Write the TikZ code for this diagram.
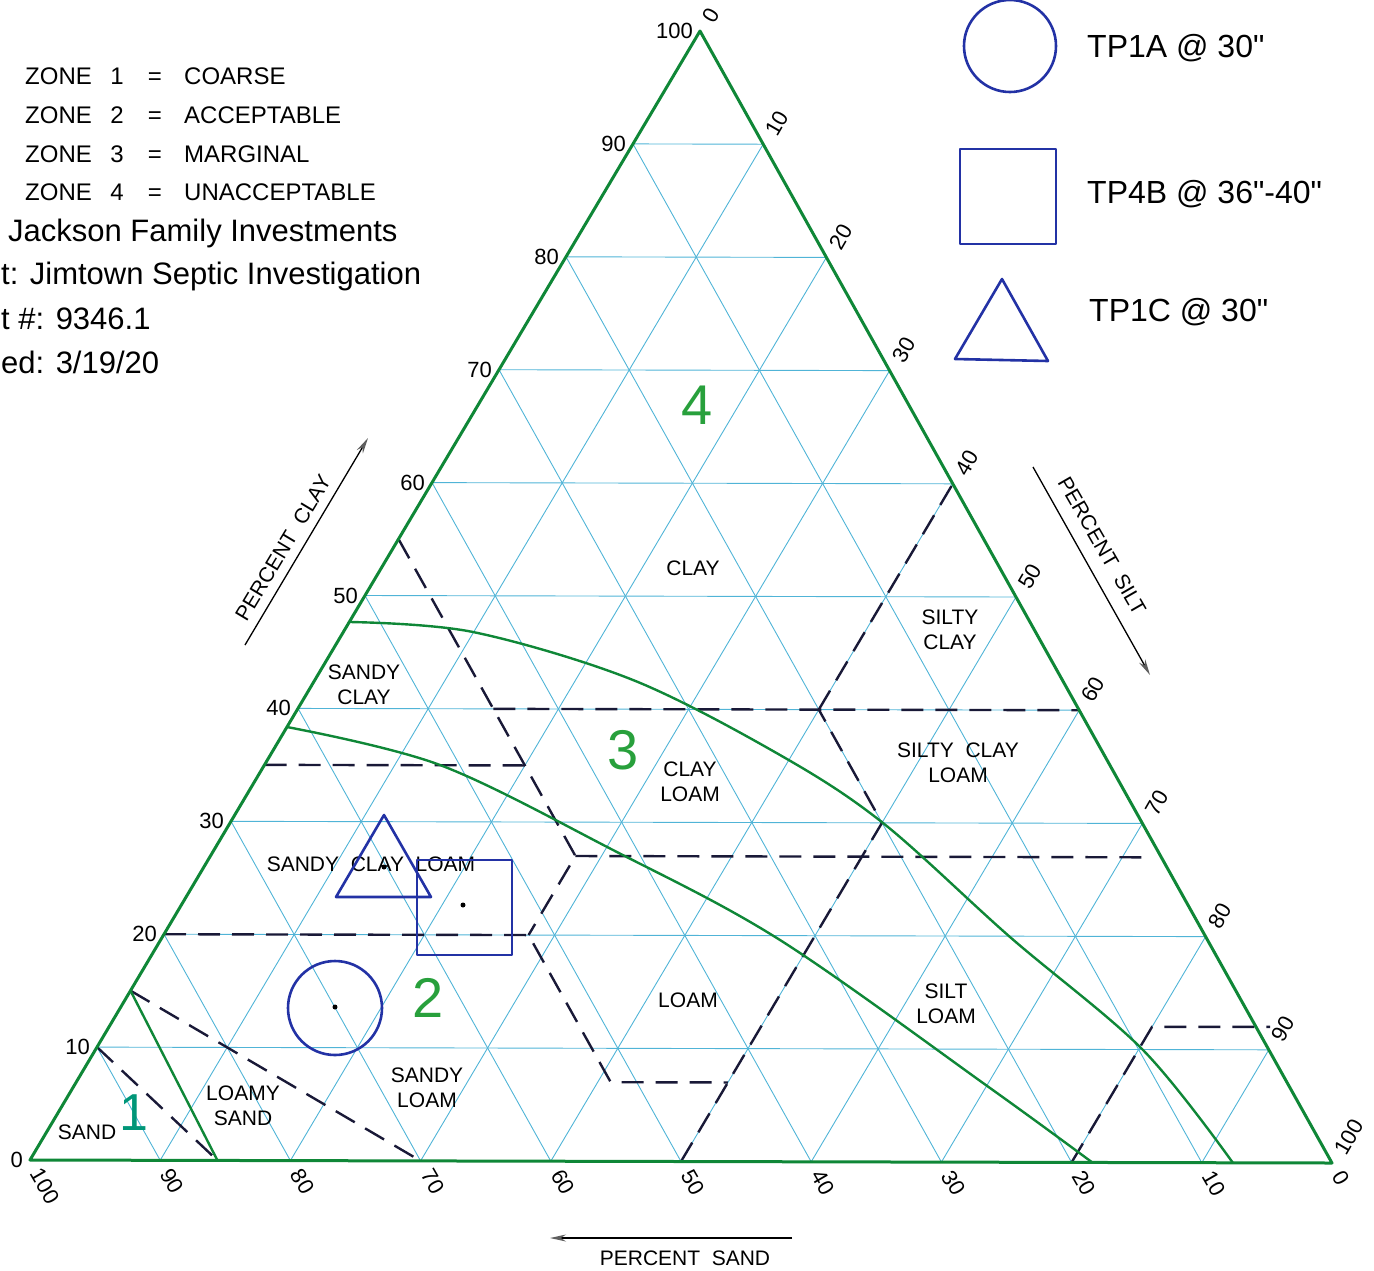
\documentclass[tikz,border=0pt]{standalone}
\usepackage{fontspec}
\setmainfont{Liberation Sans}[Ligatures=TeXOff]
\usetikzlibrary{arrows.meta}
\definecolor{tgreen}{RGB}{15,135,55}
\definecolor{zgreen}{RGB}{40,160,60}
\definecolor{zteal}{RGB}{0,150,120}
\definecolor{gridc}{RGB}{80,180,215}
\definecolor{dashc}{RGB}{25,25,55}
\definecolor{symc}{RGB}{35,50,165}
\definecolor{arrc}{RGB}{95,95,95}
\begin{document}
\begin{tikzpicture}[x=1pt,y=-1pt,
  edgeline/.style={tgreen,line width=3pt,line join=round},
  zoneline/.style={tgreen,line width=2.4pt},
  gridline/.style={gridc,line width=0.9pt},
  classline/.style={dashc,line width=2.4pt,dash pattern=on 22pt off 12pt},
  sym/.style={symc,line width=2.6pt,line join=round},
  lbl/.style={font=\fontsize{21}{25}\selectfont,align=center,inner sep=0pt},
  ticklbl/.style={font=\fontsize{22}{26}\selectfont,inner sep=0pt},
  zonenum/.style={font=\fontsize{56}{60}\selectfont,zgreen,inner sep=0pt},
  info/.style={font=\fontsize{31}{36}\selectfont,anchor=base west,inner sep=0pt},
  legtxt/.style={font=\fontsize{24}{28}\selectfont,inner sep=0pt},
  axislbl/.style={font=\fontsize{21}{25}\selectfont,inner sep=0pt},
  axisarrow/.style={line width=1.3pt,-{Stealth[length=16pt,width=7pt,color=arrc]}},
  dotmark/.style={circle,fill=black,inner sep=0pt,minimum size=5pt},
]
\useasboundingbox (0,0) rectangle (1374,1270);
\coordinate (L) at (30,1160);
\coordinate (R) at (1332,1163);
\coordinate (T) at (700,31);

% ---------- grid ----------
\foreach \i in {1,...,9}{
  \pgfmathsetmacro\a{\i/10}
  \pgfmathsetmacro\b{1-\i/10}
  \draw[gridline] (barycentric cs:L=\b,T=\a) -- (barycentric cs:R=\b,T=\a);
  \draw[gridline] (barycentric cs:L=\b,R=\a) -- (barycentric cs:R=\a,T=\b);
  \draw[gridline] (barycentric cs:L=\a,R=\b) -- (barycentric cs:L=\a,T=\b);
}

% ---------- class boundary points (sand, silt, clay fractions) ----------
\coordinate (p1) at (barycentric cs:L=0.90,T=0.10);
\coordinate (p2) at (barycentric cs:L=0.856,R=0.144);
\coordinate (p3) at (barycentric cs:L=0.85,T=0.15);
\coordinate (p4) at (barycentric cs:L=0.70,R=0.30);
\coordinate (p5) at (barycentric cs:L=0.80,T=0.20);
\coordinate (p6) at (barycentric cs:L=0.52,R=0.28,T=0.20);
\coordinate (p7) at (barycentric cs:L=0.52,R=0.41,T=0.07);
\coordinate (p8) at (barycentric cs:L=0.43,R=0.50,T=0.07);
\coordinate (p9) at (barycentric cs:L=0.50,R=0.50);
\coordinate (p10) at (barycentric cs:L=0.20,R=0.50,T=0.30);
\coordinate (p11) at (barycentric cs:L=0.20,R=0.40,T=0.40);
\coordinate (p12) at (barycentric cs:L=0.45,T=0.55);
\coordinate (p13) at (barycentric cs:L=0.45,R=0.28,T=0.27);
\coordinate (p14) at (barycentric cs:L=0.45,R=0.15,T=0.40);
\coordinate (p15) at (barycentric cs:R=0.60,T=0.40);
\coordinate (p16) at (barycentric cs:L=0.65,T=0.35);
\coordinate (p17) at (barycentric cs:L=0.45,R=0.20,T=0.35);
\coordinate (p18) at (barycentric cs:L=0.01,R=0.72,T=0.27);
\coordinate (p19) at (barycentric cs:R=0.40,T=0.60);
\coordinate (p20) at (barycentric cs:L=0.20,R=0.80);
\coordinate (p21) at (barycentric cs:L=0.08,R=0.80,T=0.12);
\coordinate (p22) at (1270,1026.9);

\draw[classline] (p1) -- (p2);
\draw[classline] (p3) -- (p4);
\draw[classline] (p5) -- (p6) -- (p7) -- (p8);
\draw[classline] (p9) -- (p10) -- (p11);
\draw[classline] (p12) -- (p13) -- (p6);
\draw[classline] (p14) -- (p15);
\draw[classline] (p16) -- (p17);
\draw[classline] (p13) -- (p18);
\draw[classline] (p11) -- (p19);
\draw[classline] (p20) -- (p21) -- (p22);

% ---------- zone lines ----------
\draw[zoneline] (p3) -- (p2);
\draw[zoneline] plot[smooth,tension=0.55] coordinates {(287,727) (440,765) (613,850) (780,940) (990,1088) (1093,1163)};
\draw[zoneline] plot[smooth,tension=0.55] coordinates {(350,622) (473,632) (633,680) (780,755) (883,823) (1010,937) (1143,1050) (1233,1163)};

% ---------- triangle ----------
\draw[edgeline] (L) -- (R) -- (T) -- cycle;

% ---------- tick labels ----------
\foreach \v in {0,10,...,100}{
  \pgfmathsetmacro\fv{\v/100}
  \pgfmathsetmacro\fw{1-\v/100}
  \node[ticklbl,anchor=west,rotate=-60] (sa\v) at ([shift={(6,10)}]barycentric cs:L=\fv,R=\fw) {\v};
  \node[ticklbl,anchor=west,rotate=60] (si\v) at ([shift={(8,-10)}]barycentric cs:R=\fv,T=\fw) {\v};
  \node[ticklbl,anchor=east] (cl\v) at ([shift={(-7,0)}]barycentric cs:L=\fw,T=\fv) {\v};
}

% ---------- region labels ----------
\node[lbl] (nclay) at (693,568) {CLAY};
\node[lbl] (nsc) at (950,630) {SILTY\\CLAY};
\node[lbl] (nsac) at (364,685) {SANDY\\CLAY};
\node[lbl] (ncl) at (690,782) {CLAY\\LOAM};
\node[lbl] (nscl) at (958,763) {SILTY\ \ CLAY\\LOAM};
\node[lbl] (nsacl) at (371,864) {SANDY\ \ CLAY\ \ LOAM};
\node[lbl] (nloam) at (688,1000) {LOAM};
\node[lbl] (nsil) at (946,1004) {SILT\\LOAM};
\node[lbl] (nsal) at (427,1088) {SANDY\\LOAM};
\node[lbl] (nls) at (243,1106) {LOAMY\\SAND};
\node[lbl] (nsand) at (87,1132) {SAND};

% ---------- zone numbers ----------
\node[zonenum] (z4) at (697,405) {4};
\node[zonenum] (z3) at (623,750) {3};
\node[zonenum] (z2) at (428,998) {2};
\node[zonenum,zteal,font=\fontsize{52}{56}\selectfont] (z1) at (134,1113) {1};

% ---------- samples ----------
\draw[sym] (335,1008) circle[radius=47];
\draw[sym] (417,860) rectangle (512,955);
\draw[sym] (384,815) -- (336,897) -- (431,897) -- cycle;
\node[dotmark] (d1) at (335,1007) {};
\node[dotmark] (d2) at (463,905) {};
\node[dotmark] (d3) at (384,867) {};

% ---------- legend (samples) ----------
\draw[sym] (1010,46) circle[radius=46];
\draw[sym] (960,149) rectangle (1056,244);
\draw[sym] (1002,279) -- (955,359) -- (1048,361) -- cycle;
\node[info,font=\fontsize{32}{36}\selectfont] (lg1) at (1087,57) {TP1A @ 30"};
\node[info,font=\fontsize{32}{36}\selectfont] (lg2) at (1087,203) {TP4B @ 36"-40"};
\node[info,font=\fontsize{32}{36}\selectfont] (lg3) at (1089,321) {TP1C @ 30"};

% ---------- zone legend ----------
\foreach \k/\yy/\word in {1/84/COARSE,2/123/ACCEPTABLE,3/162/MARGINAL,4/200/UNACCEPTABLE}{
  \node[legtxt,anchor=base west] (zl\k) at (25,\yy) {ZONE};
  \node[legtxt,anchor=base] (zn\k) at (117,\yy) {\k};
  \node[legtxt,anchor=base] (ze\k) at (155,\yy) {=};
  \node[legtxt,anchor=base west] (zw\k) at (184,\yy) {\word};
}

% ---------- info block ----------
\node[info] (i1) at (8,241.5) {Jackson Family Investments};
\node[info] (i2) at (1,284.5) {t: Jimtown Septic Investigation};
\node[info] (i3) at (1,329.5) {t \#: 9346.1};
\node[info] (i4) at (1,373.5) {ed: 3/19/20};

% ---------- axis arrows ----------
\coordinate (ca1) at (245,645); \coordinate (ca2) at (368,438);
\coordinate (sa1) at (1033,467); \coordinate (sa2) at (1150,675);
\coordinate (na1) at (792,1238); \coordinate (na2) at (550,1238);
\draw[axisarrow] (ca1) -- (ca2);
\draw[axisarrow] (sa1) -- (sa2);
\draw[axisarrow] (na1) -- (na2);
\node[axislbl,rotate=59] (tcl) at (283,548) {PERCENT\ \ CLAY};
\node[axislbl,rotate=-60] (tsi) at (1102,546) {PERCENT\ \ SILT};
\node[axislbl] (tsa) at (685,1258) {PERCENT\ \ SAND};
\end{tikzpicture}
\end{document}
